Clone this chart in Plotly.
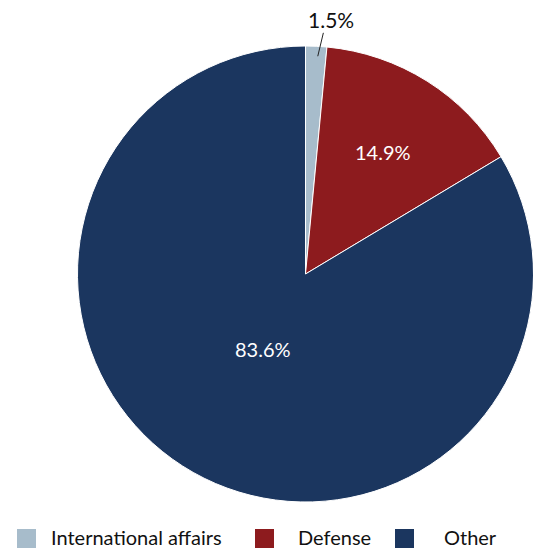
import math
import plotly.graph_objects as go

labels = ["International affairs", "Defense", "Other"]
values = [1.5, 14.9, 83.6]
colors = ["#a7bccb", "#8d1b1e", "#1b365f"]
text_labels = ["1.5%", "14.9%", "83.6%"]

OFF = 8  # page body margin
W, H = 541 - OFF, 549 - OFF
cx, cy, R = 305.5 - OFF, 274.0 - OFF, 228.0

FONT = "Lato, Noto Sans, sans-serif"


def px(x):
    return x / W


def py(y):
    return 1 - y / H


fig = go.Figure(go.Pie(
    labels=labels,
    values=values,
    textinfo="none",
    sort=False,
    direction="clockwise",
    rotation=0,
    marker=dict(colors=colors, line=dict(color="white", width=1)),
    domain=dict(x=[px(cx - R), px(cx + R)], y=[py(cy + R), py(cy - R)]),
    hoverinfo="label+percent",
    showlegend=False,
))

total = sum(values)
cum = 0.0
mids = []
for v in values:
    mids.append((cum + v / 2) / total * 2 * math.pi)
    cum += v

# inside labels (radius fractions are styling)
rfrac = [None, 0.635, 0.376]
for i in (1, 2):
    a = mids[i]
    x = cx + rfrac[i] * R * math.sin(a)
    y = cy - rfrac[i] * R * math.cos(a)
    fig.add_annotation(x=px(x), y=py(y), xref="paper", yref="paper",
                       xanchor="center", yanchor="middle",
                       text=text_labels[i], showarrow=False,
                       font=dict(family=FONT, size=20, color="white"))

# outside label for small slice with leader line
a = mids[0]
x0 = cx + (R - 10) * math.sin(a) + 2
y0 = cy - (R - 10) * math.cos(a)
x1 = x0 + 5.6
y1 = y0 - 23.4
fig.add_shape(type="line", xref="paper", yref="paper",
              x0=px(x0), y0=py(y0), x1=px(x1), y1=py(y1),
              line=dict(color="#222", width=1))
fig.add_annotation(x=px(331 - OFF), y=py(20 - OFF), xref="paper", yref="paper",
                   xanchor="center", yanchor="middle",
                   text=text_labels[0], showarrow=False,
                   font=dict(family=FONT, size=21, color="#111"))

# custom legend
sq_x = [17, 255, 395]
txt_x = [50, 297, 443]
for i in range(3):
    fig.add_shape(type="rect", xref="paper", yref="paper",
                  x0=px(sq_x[i] - OFF), x1=px(sq_x[i] + 19 - OFF),
                  y0=py(548 - OFF), y1=py(529 - OFF),
                  fillcolor=colors[i], line=dict(width=0))
    fig.add_annotation(x=px(txt_x[i] - OFF), y=py(536.5 - OFF), xref="paper", yref="paper",
                       xanchor="left", yanchor="middle",
                       text=labels[i], showarrow=False, borderpad=0,
                       font=dict(family=FONT, size=20, color="#111"))

fig.update_layout(
    width=W, height=H,
    margin=dict(l=0, r=0, t=0, b=0),
    paper_bgcolor="white",
    showlegend=False,
)

fig.write_html("out.html")
